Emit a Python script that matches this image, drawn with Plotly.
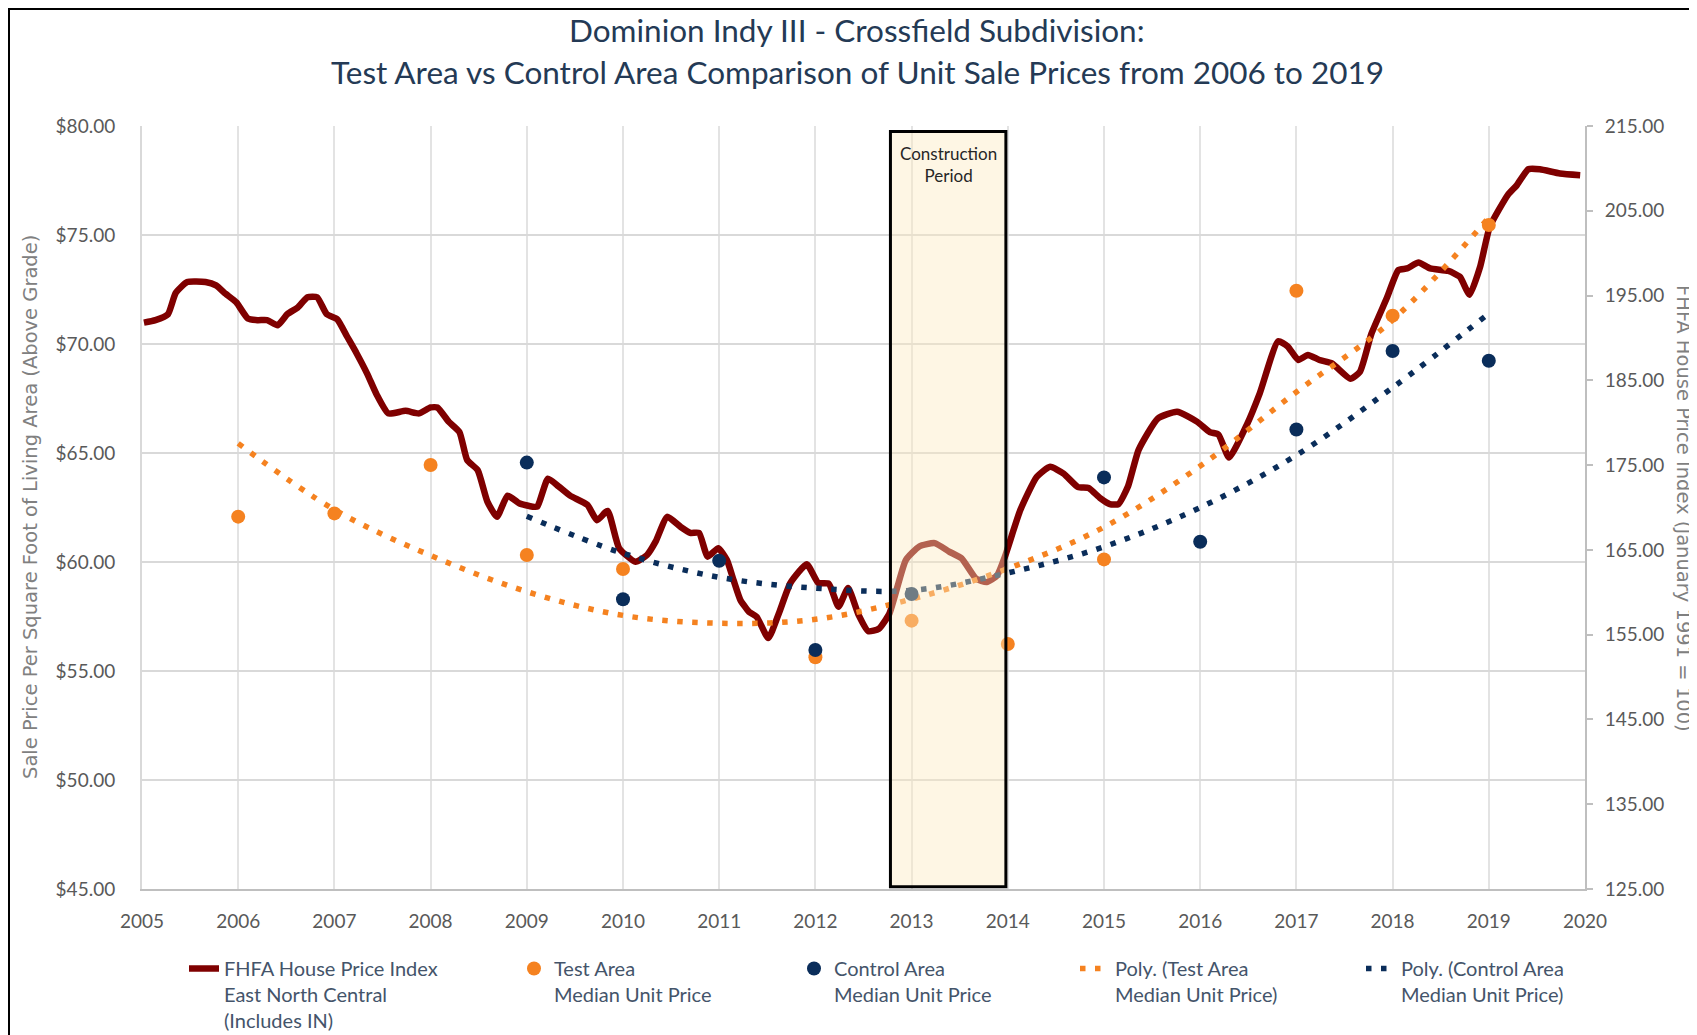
import plotly.graph_objects as go

# FHFA house price index, East North Central
HPI_YEAR = [2005.02, 2005.14, 2005.27, 2005.35, 2005.47, 2005.66, 2005.77, 2005.87, 2005.98,
            2006.10, 2006.20, 2006.30, 2006.41, 2006.51, 2006.62, 2006.72, 2006.82, 2006.92,
            2007.03, 2007.13, 2007.23, 2007.34, 2007.44, 2007.56, 2007.74, 2007.88,
            2008.00, 2008.07, 2008.19, 2008.30, 2008.38, 2008.49, 2008.59, 2008.69, 2008.80, 2008.92,
            2009.06, 2009.11, 2009.22, 2009.33, 2009.45, 2009.63, 2009.73, 2009.84, 2009.96,
            2010.13, 2010.25, 2010.34, 2010.46, 2010.60, 2010.70, 2010.79, 2010.88, 2010.99,
            2011.08, 2011.15, 2011.22, 2011.31, 2011.39, 2011.51, 2011.62, 2011.74, 2011.91,
            2012.03, 2012.14, 2012.24, 2012.34, 2012.45, 2012.55, 2012.66, 2012.77, 2012.94,
            2013.08, 2013.24, 2013.39, 2013.52, 2013.67, 2013.78, 2013.89, 2013.97,
            2014.13, 2014.30, 2014.44, 2014.58, 2014.73, 2014.84, 2014.96,
            2015.06, 2015.15, 2015.25, 2015.36, 2015.56, 2015.76, 2015.97,
            2016.10, 2016.19, 2016.30, 2016.49, 2016.62, 2016.81, 2016.91,
            2017.02, 2017.12, 2017.24, 2017.37, 2017.56, 2017.66, 2017.78, 2017.94,
            2018.06, 2018.15, 2018.27, 2018.39, 2018.58, 2018.70, 2018.80, 2018.91,
            2019.01, 2019.20, 2019.29, 2019.41, 2019.53, 2019.74, 2019.95]
HPI_INDEX = [191.8, 192.1, 192.8, 195.3, 196.6, 196.6, 196.2, 195.2, 194.2,
             192.3, 192.1, 192.1, 191.5, 192.8, 193.6, 194.8, 194.8, 192.8,
             192.2, 190.2, 188.2, 185.8, 183.3, 181.1, 181.4, 181.1,
             181.8, 181.8, 180.1, 178.9, 175.6, 174.4, 170.7, 168.9, 171.4, 170.5,
             170.1, 170.1, 173.4, 172.5, 171.4, 170.3, 168.5, 169.6, 165.2,
             163.6, 164.4, 166.0, 168.9, 167.7, 167.0, 167.0, 164.2, 165.2,
             163.8, 161.4, 159.1, 157.7, 157.1, 154.6, 157.5, 161.1, 163.3,
             161.1, 161.0, 158.3, 160.5, 157.3, 155.4, 155.7, 157.5, 163.8,
             165.4, 165.8, 164.8, 164.0, 161.6, 161.2, 162.0, 164.2,
             169.7, 173.6, 174.8, 174.0, 172.4, 172.3, 171.1,
             170.4, 170.4, 172.5, 176.8, 180.5, 181.3, 180.1,
             178.9, 178.6, 175.9, 179.9, 183.5, 189.6, 189.0,
             187.4, 188.0, 187.4, 187.0, 185.2, 186.0, 190.5, 194.7,
             198.0, 198.2, 198.9, 198.2, 197.9, 197.2, 195.1, 198.4,
             203.1, 206.9, 208.0, 209.9, 209.9, 209.4, 209.2]

# Median unit sale price per sq ft
TEST_YEARS = [2006, 2007, 2008, 2009, 2010, 2012, 2013, 2014, 2015, 2017, 2018, 2019]
TEST_PRICE = [62.08, 62.23, 64.45, 60.32, 59.68, 55.63, 57.31, 56.24, 60.12, 72.44, 71.30, 75.46]
CONTROL_YEARS = [2009, 2010, 2011, 2012, 2013, 2015, 2016, 2017, 2018, 2019]
CONTROL_PRICE = [64.56, 58.29, 60.06, 55.96, 58.53, 63.88, 60.93, 66.08, 69.68, 69.23]

# Polynomial trendlines as drawn in the source chart
TEST_TREND_YEARS = list(range(2006, 2020))
TEST_TREND = [65.44, 62.4, 60.3, 58.64, 57.55, 57.19, 57.37, 58.3, 59.7, 61.6, 64.4, 67.8, 71.1, 75.8]
CONTROL_TREND_YEARS = list(range(2009, 2020))
CONTROL_TREND = [62.1, 60.4, 59.3, 58.8, 58.7, 59.5, 60.7, 62.5, 64.9, 68.0, 71.4]

CONSTRUCTION = [2012.78, 2013.98]

# page coordinates of the plot area; the page body adds an 8px offset
OFF = 8
W, H = 1697, 1035
PLOT_L, PLOT_R, PLOT_T, PLOT_B = 142, 1585, 126, 889
FIG_W, FIG_H = W - OFF, H - OFF
PW, PH = PLOT_R - PLOT_L, PLOT_B - PLOT_T

def px_x(px):
    return (px - PLOT_L) / PW

def px_y(py):
    return (PLOT_B - py) / PH

RED = "#7F0000"
ORANGE = "#F58220"
NAVY = "#0A2D5A"
GRAY = "#595959"
SLATE = "#44546A"
FONT = "Lato"

fig = go.Figure()

fig.add_trace(go.Scatter(
    x=HPI_YEAR, y=HPI_INDEX, mode="lines", yaxis="y",
    line=dict(color=RED, width=6.5, shape="spline", smoothing=0.5),
    name="FHFA House Price Index<br>East North Central<br>(Includes IN)",
    legend="legend"))
fig.add_trace(go.Scatter(
    x=TEST_TREND_YEARS, y=TEST_TREND, mode="lines", yaxis="y2",
    line=dict(color=ORANGE, width=5.5, dash="5.5px,9.5px", shape="spline"),
    name="Poly. (Test Area<br>Median Unit Price)", legend="legend4"))
fig.add_trace(go.Scatter(
    x=CONTROL_TREND_YEARS, y=CONTROL_TREND, mode="lines", yaxis="y2",
    line=dict(color=NAVY, width=5.5, dash="5.5px,9.5px", shape="spline"),
    name="Poly. (Control Area<br>Median Unit Price)", legend="legend5"))
fig.add_trace(go.Scatter(
    x=TEST_YEARS, y=TEST_PRICE, mode="markers", yaxis="y2",
    marker=dict(color=ORANGE, size=14),
    name="Test Area<br>Median Unit Price", legend="legend2"))
fig.add_trace(go.Scatter(
    x=CONTROL_YEARS, y=CONTROL_PRICE, mode="markers", yaxis="y2",
    marker=dict(color=NAVY, size=14),
    name="Control Area<br>Median Unit Price", legend="legend3"))

# construction period box drawn over the data
fig.add_shape(type="rect", xref="x", yref="y2",
              x0=CONSTRUCTION[0], x1=CONSTRUCTION[1], y0=45.1, y1=79.75,
              fillcolor="rgba(252,234,190,0.42)", line=dict(color="black", width=3),
              layer="above")
fig.add_annotation(x=sum(CONSTRUCTION) / 2, y=79.3, xref="x", yref="y2",
                   text="Construction<br>Period", showarrow=False, yanchor="top",
                   font=dict(family=FONT, size=17, color="#262626"))

# outer frame
fig.add_shape(type="rect", xref="paper", yref="paper",
              x0=px_x(OFF + 1), x1=px_x(1720), y0=px_y(1060), y1=px_y(OFF + 1),
              line=dict(color="black", width=2), fillcolor="rgba(0,0,0,0)")

# titles
title_font = dict(family=FONT, size=31.5, color="#243A55")
fig.add_annotation(x=px_x(857), y=px_y(30), xref="paper", yref="paper",
                   xanchor="center", yanchor="middle", showarrow=False,
                   text="Dominion Indy III - Crossfield Subdivision:", font=title_font)
fig.add_annotation(x=px_x(857), y=px_y(72), xref="paper", yref="paper",
                   xanchor="center", yanchor="middle", showarrow=False,
                   text="Test Area vs Control Area Comparison of Unit Sale Prices from 2006 to 2019",
                   font=title_font)
axis_title_font = dict(family="DejaVu Sans", size=19.5, color="#808080")
fig.add_annotation(x=px_x(30), y=px_y(507), xref="paper", yref="paper", textangle=-90,
                   xanchor="center", yanchor="middle", showarrow=False,
                   text="Sale Price Per Square Foot of Living Area (Above Grade)",
                   font=axis_title_font)
fig.add_annotation(x=px_x(1684), y=px_y(508), xref="paper", yref="paper", textangle=90,
                   xanchor="center", yanchor="middle", showarrow=False,
                   text="FHFA House Price Index (January 1991 = 100)",
                   font=axis_title_font)

tick_font = dict(family=FONT, size=19, color=GRAY)
legend_font = dict(family=FONT, size=20, color=SLATE)
legend_y = px_y(949)

def legend_at(px):
    return dict(x=px_x(px), y=legend_y, xanchor="left", yanchor="top", valign="top",
                font=legend_font, bgcolor="rgba(0,0,0,0)", itemwidth=30)

fig.update_layout(
    width=FIG_W, height=FIG_H,
    margin=dict(l=PLOT_L - OFF, r=FIG_W - (PLOT_R - OFF), t=PLOT_T - OFF,
                b=FIG_H - (PLOT_B - OFF), autoexpand=False),
    paper_bgcolor="white", plot_bgcolor="white",
    showlegend=True,
    xaxis=dict(range=[2005, 2020], dtick=1, tick0=2005, showgrid=True,
               gridcolor="#E3E3E3", gridwidth=1.5, showline=True, linecolor="#BFBFBF",
               linewidth=2, tickfont=tick_font, ticklabelstandoff=14, zeroline=False),
    yaxis=dict(range=[125, 215], dtick=10, tick0=125, side="right", tickformat=".2f",
               showgrid=False, showline=True, linecolor="#BFBFBF", linewidth=2,
               ticks="outside", ticklen=6, tickcolor="#BFBFBF", tickwidth=1.5,
               tickfont=tick_font, ticklabelstandoff=8, zeroline=False),
    yaxis2=dict(range=[45, 80], dtick=5, tick0=45, side="left", overlaying="y",
                tickformat="$.2f", showgrid=True, gridcolor="#D9D9D9", gridwidth=2,
                showline=True, linecolor="#D9D9D9", linewidth=2,
                tickfont=tick_font, ticklabelstandoff=21, zeroline=False),
    legend=legend_at(184),
    legend2=legend_at(514),
    legend3=legend_at(794),
    legend4=legend_at(1075),
    legend5=legend_at(1361),
)

fig.write_html("out.html")
